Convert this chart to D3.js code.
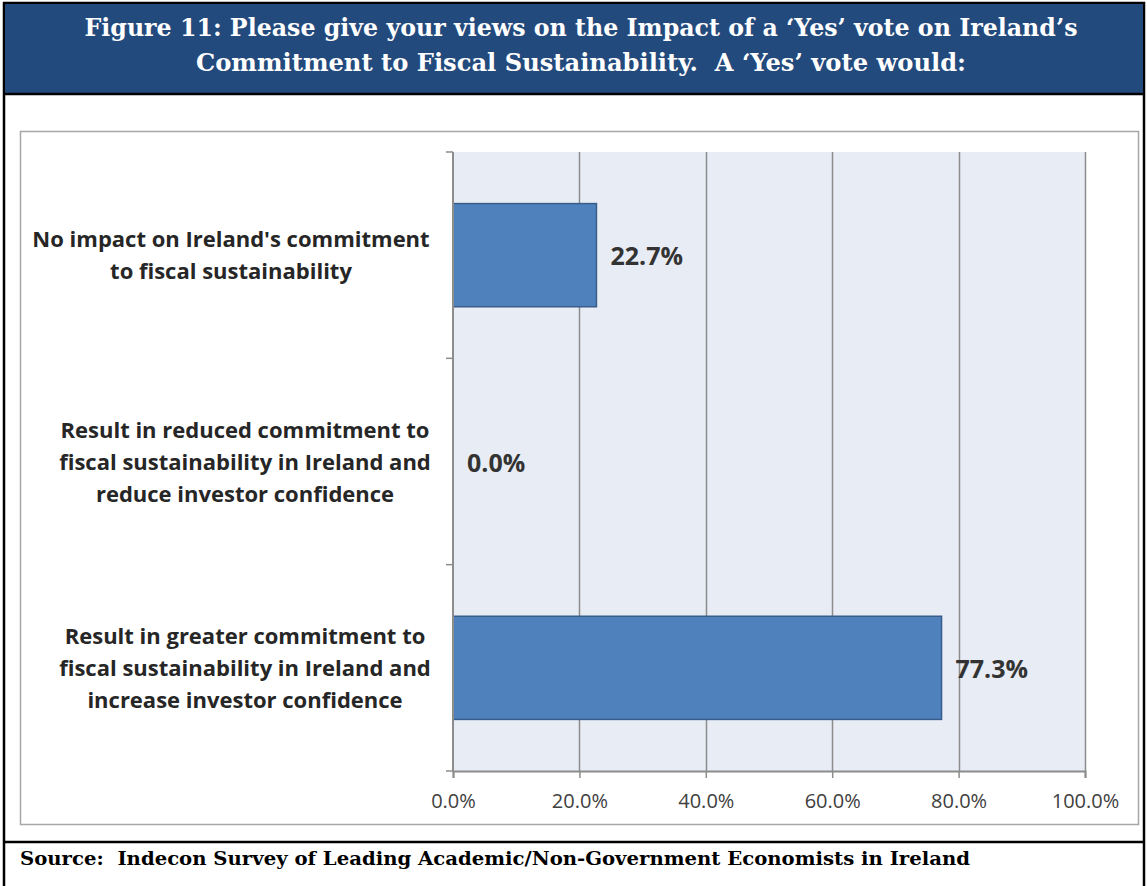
<!DOCTYPE html>
<html><head><meta charset="utf-8">
<script src="https://cdn.jsdelivr.net/npm/d3@7"></script>
<style>body{margin:0;background:#fff;}svg{display:block;} text{white-space:pre;}</style>
</head><body>
<svg id="c" width="1147" height="886"></svg>
<script>
const titleLines = ["Figure 11: Please give your views on the Impact of a \u2018Yes\u2019 vote on Ireland\u2019s",
                    "Commitment to Fiscal Sustainability.  A \u2018Yes\u2019 vote would:"];
const categories = [
  ["No impact on Ireland's commitment", "to fiscal sustainability"],
  ["Result in reduced commitment to", "fiscal sustainability in Ireland and", "reduce investor confidence"],
  ["Result in greater commitment to", "fiscal sustainability in Ireland and", "increase investor confidence"]
];
const values = [22.7, 0.0, 77.3];
const ticks = [0, 20, 40, 60, 80, 100];
const source = "Source:  Indecon Survey of Leading Academic/Non-Government Economists in Ireland";

const svg = d3.select("#c");
const serif = "'DejaVu Serif','Liberation Serif',serif";
const sans = "'Open Sans','Liberation Sans',sans-serif";

// outer frame
svg.append("rect").attr("x",4).attr("y",3).attr("width",1140).attr("height",890).attr("fill","none").attr("stroke","#000").attr("stroke-width",2.5);
// title band
svg.append("rect").attr("x",5).attr("y",4).attr("width",1138).attr("height",89).attr("fill","#234a7d");
svg.append("line").attr("x1",4).attr("x2",1144).attr("y1",94).attr("y2",94).attr("stroke","#000").attr("stroke-width",2.5);
const titleW = [993, 770];
svg.selectAll("text.title").data(titleLines).join("text")
  .attr("x",(d,i)=>581-titleW[i]/2).attr("y",(d,i)=>36+i*35)
  .attr("textLength",(d,i)=>titleW[i]).attr("lengthAdjust","spacingAndGlyphs")
  .attr("fill","#fff").attr("font-family",serif).attr("font-weight","bold").attr("font-size",25)
  .text(d=>d);

// chart box
svg.append("rect").attr("x",20.5).attr("y",131.5).attr("width",1118).attr("height",693).attr("fill","#fff").attr("stroke","#a6a6a6").attr("stroke-width",1.5);

// source line
svg.append("line").attr("x1",4).attr("x2",1144).attr("y1",842).attr("y2",842).attr("stroke","#000").attr("stroke-width",2.5);
svg.append("text").attr("x",20).attr("y",865).attr("textLength",950).attr("lengthAdjust","spacingAndGlyphs")
  .attr("font-family",serif).attr("font-weight","bold").attr("font-size",19).attr("fill","#000").text(source);

// plot
const x = d3.scaleLinear().domain([0,100]).range([453,1085]);
const y = d3.scaleBand().domain(d3.range(categories.length)).range([152,771]).paddingInner(0.5).paddingOuter(0.25);
const yb = d3.scaleBand().domain(d3.range(categories.length)).range([152,771]);

svg.append("rect").attr("x",x(0)).attr("y",152).attr("width",x(100)-x(0)).attr("height",771-152).attr("fill","#e8ecf4");
const g = svg.append("g");
g.selectAll("line.grid").data(ticks.slice(1)).join("line")
  .attr("x1",d=>Math.round(x(d))+0.5).attr("x2",d=>Math.round(x(d))+0.5).attr("y1",152).attr("y2",771)
  .attr("stroke","#8c8c8c").attr("stroke-width",1.5);

// bars
g.selectAll("rect.bar").data(values).join("rect")
  .attr("x",x(0)).attr("y",(d,i)=>y(i)).attr("width",d=>x(d)-x(0)).attr("height",y.bandwidth())
  .attr("fill","#4f81bd").attr("stroke",d=>d>0?"#385d8a":"none").attr("stroke-width",1.5);

// x axis
const xAxis = d3.axisBottom(x).tickValues(ticks).tickSize(7).tickFormat(d=>d.toFixed(1)+"%");
const ga = svg.append("g").attr("transform","translate(0,771)").call(xAxis);
ga.select(".domain").attr("stroke","#8c8c8c").attr("stroke-width",2);
ga.selectAll(".tick line").attr("stroke","#8c8c8c").attr("stroke-width",1.5);
ga.selectAll(".tick text").attr("font-family",sans).attr("font-size",20).attr("fill","#404040").attr("dy","1.35em");

// y axis
const yTicks = [152].concat(d3.range(categories.length).map(i=>yb(i)+yb.bandwidth()));
svg.append("line").attr("x1",453).attr("x2",453).attr("y1",152).attr("y2",771).attr("stroke","#8c8c8c").attr("stroke-width",2);
svg.selectAll("line.yt").data(yTicks).join("line")
  .attr("x1",446).attr("x2",453).attr("y1",d=>d).attr("y2",d=>d).attr("stroke","#8c8c8c").attr("stroke-width",1.5);

// category labels (wrapped label blocks, centred within the label area)
const labelCx = [231, 245, 245];
categories.forEach((lines,i)=>{
  const cy = yb(i)+yb.bandwidth()/2;
  const n = lines.length;
  svg.append("text").attr("text-anchor","middle").attr("font-family",sans).attr("font-weight","bold")
    .attr("font-size",22).attr("fill","#262626")
    .selectAll("tspan").data(lines).join("tspan")
    .attr("x",labelCx[i]).attr("y",(d,j)=>cy+(j-(n-1)/2)*32+8).text(d=>d);
});

// value labels
g.selectAll("text.val").data(values).join("text")
  .attr("x",d=>x(d)+14).attr("y",(d,i)=>yb(i)+yb.bandwidth()/2+10)
  .attr("font-family",sans).attr("font-weight","bold").attr("font-size",25).attr("fill","#333")
  .text(d=>d.toFixed(1)+"%");
</script>
</body></html>
